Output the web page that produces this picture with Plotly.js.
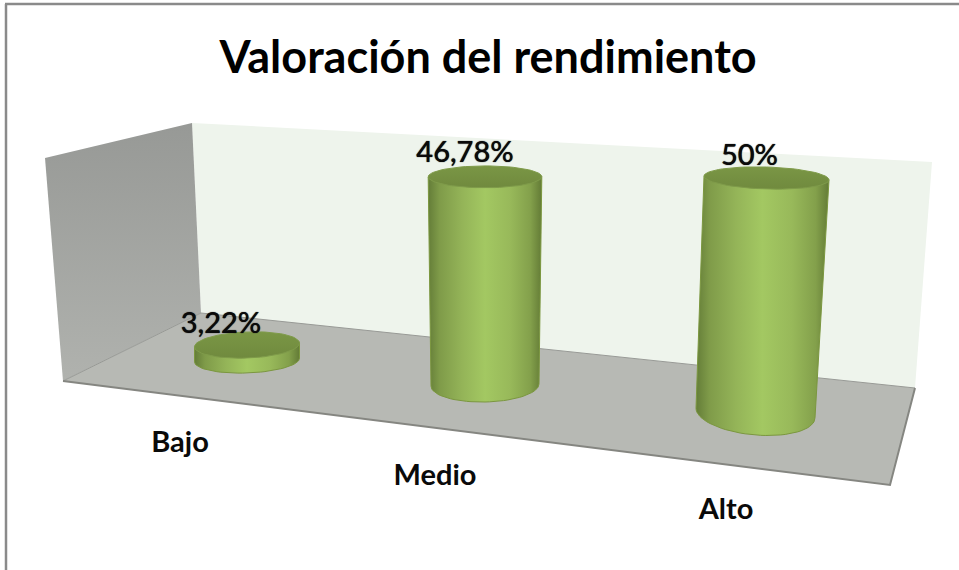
<!DOCTYPE html>
<html>
<head>
<meta charset="utf-8">
<script src="https://cdn.plot.ly/plotly-3.0.1.min.js"></script>
<style>html,body{margin:0;padding:0;background:#fff}#chart{width:959px;height:570px}</style>
</head>
<body>
<div id="chart"></div>
<script>
// ---- chart values ----
const chartTitle = 'Valoración del rendimiento';
const categories = ['Bajo', 'Medio', 'Alto'];
const values = [3.22, 46.78, 50];
const valueLabels = ['3,22%', '46,78%', '50%'];

// ---- oblique 3-D projection of the original chart (pixel space) ----
const axisMax = 50;
const baseX = [247, 485, 755.5], baseY = [360, 385, 413];
const topShiftX = [0, 0, 11];           // lean of the vertical axis at axisMax
const pxPerValue = [4.66, 4.45, 4.7];
const baseRx = [52.5, 54, 59.5], topRx = [52.5, 57, 62.5];
const baseRy = [13, 17, 22], topRy = [14, 10.5, 11];
const baseTilt = [-0.035, -0.02, 0.08], topTilt = [-0.06, 0, 0.03];
const valueOffset = [[-26, -19], [-20, -22], [-17, -20]];
const catLabelPos = [[180, 445], [435, 478], [726, 512]];
const corners = {
  wallTL: [45, 158], wallTR: [192, 123], wallBR: [201, 313], wallBL: [63, 381],
  backTR: [932, 162], floorR: [915, 388], floorF: [890, 485]
};

function poly(names, closed) {
  const pts = names.map(n => corners[n]);
  if (closed !== false) pts.push(pts[0]);
  return {x: pts.map(p => p[0]), y: pts.map(p => p[1])};
}
function ellipsePoint(cx, cy, rx, ry, tilt, a) {
  const c = Math.cos(a), s = Math.sin(a);
  return [cx + rx * c, cy + rx * c * tilt + ry * s];
}
function project(i, v) {
  const f = v / axisMax;
  return {
    cx: baseX[i] + topShiftX[i] * f,
    cy: baseY[i] - pxPerValue[i] * v,
    rx: baseRx[i] + (topRx[i] - baseRx[i]) * f,
    ry: baseRy[i] + (topRy[i] - baseRy[i]) * f,
    tilt: baseTilt[i] + (topTilt[i] - baseTilt[i]) * f
  };
}
const steps = 72;
const traces = [];
const base = {type: 'scatter', mode: 'lines', fill: 'toself', hoverinfo: 'skip', showlegend: false};
const edge = {type: 'scatter', mode: 'lines', hoverinfo: 'skip', showlegend: false};

// walls and floor
traces.push(Object.assign({}, base, poly(['wallTR', 'backTR', 'floorR', 'wallBR']), {
  line: {width: 0}, fillcolor: '#eef4ec'
}));
traces.push(Object.assign({}, base, poly(['wallTL', 'wallTR', 'wallBR', 'wallBL']), {
  line: {width: 0},
  fillgradient: {type: 'vertical', colorscale: [[0, '#b0b2ae'], [1, '#979996']]}
}));
traces.push(Object.assign({}, base, poly(['wallBR', 'floorR', 'floorF', 'wallBL']), {
  line: {width: 0}, fillcolor: '#b7b9b4'
}));
traces.push(Object.assign({}, edge, poly(['wallBL', 'wallBR', 'floorR'], false), {
  line: {width: 1, color: '#989a96'}
}));
traces.push(Object.assign({}, edge, poly(['floorR', 'floorF', 'wallBL'], false), {
  line: {width: 2, color: '#858681'}
}));

// cylinders
categories.forEach((cat, i) => {
  const t = project(i, values[i]);
  const b = project(i, 0);
  const bodyX = [], bodyY = [], capX = [], capY = [];
  let p = ellipsePoint(t.cx, t.cy, t.rx, t.ry, t.tilt, Math.PI);
  bodyX.push(p[0]); bodyY.push(p[1]);
  p = ellipsePoint(t.cx, t.cy, t.rx, t.ry, t.tilt, 0);
  bodyX.push(p[0]); bodyY.push(p[1]);
  for (let k = 0; k <= steps / 2; k++) {
    const q = ellipsePoint(b.cx, b.cy, b.rx, b.ry, b.tilt, Math.PI * 2 * k / steps);
    bodyX.push(q[0]); bodyY.push(q[1]);
  }
  bodyX.push(bodyX[0]); bodyY.push(bodyY[0]);
  for (let k = 0; k <= steps; k++) {
    const q = ellipsePoint(t.cx, t.cy, t.rx, t.ry, t.tilt, Math.PI * 2 * k / steps);
    capX.push(q[0]); capY.push(q[1]);
  }
  traces.push(Object.assign({}, base, {
    x: bodyX, y: bodyY, name: cat,
    line: {width: 1, color: '#7b973f'},
    fillgradient: {type: 'horizontal', colorscale: [
      [0, '#647d38'], [0.1, '#7f9b49'], [0.3, '#94b458'], [0.5, '#a3c862'],
      [0.72, '#98b95a'], [0.9, '#83a04b'], [1, '#637b36']]}
  }));
  traces.push(Object.assign({}, base, {
    x: capX, y: capY, name: cat + ' cap',
    line: {width: 1, color: '#7f9b4a'},
    fillgradient: {type: 'vertical', colorscale: [[0, '#708a3e'], [1, '#7a9645']]}
  }));
});

// data labels (sit on the top of each cylinder)
traces.push({
  type: 'scatter', mode: 'text', hoverinfo: 'skip', showlegend: false,
  x: values.map((v, i) => project(i, v).cx + valueOffset[i][0]),
  y: values.map((v, i) => project(i, v).cy + valueOffset[i][1]),
  text: valueLabels, textposition: 'middle center',
  textfont: {family: 'Lato, sans-serif', size: 29, color: '#0a0a0a', weight: 500, shadow: '0 0 1px #0a0a0a'}
});
// category labels
traces.push({
  type: 'scatter', mode: 'text', hoverinfo: 'skip', showlegend: false,
  x: catLabelPos.map(p => p[0]), y: catLabelPos.map(p => p[1]),
  text: categories, textposition: 'middle center',
  textfont: {family: 'Lato, sans-serif', size: 29, color: '#0a0a0a', weight: 700}
});

const layout = {
  width: 959, height: 570,
  margin: {l: 0, r: 0, t: 0, b: 0},
  paper_bgcolor: '#ffffff', plot_bgcolor: '#ffffff',
  showlegend: false,
  title: {
    text: chartTitle, x: 488 / 959, xanchor: 'center', y: 1 - 57 / 570, yanchor: 'middle',
    font: {family: 'Lato, sans-serif', size: 45, color: '#000000', weight: 700}
  },
  xaxis: {range: [0, 959], visible: false, fixedrange: true},
  yaxis: {range: [570, 0], visible: false, fixedrange: true},
  shapes: [
    {type: 'line', xref: 'paper', yref: 'paper', x0: 5 / 959, x1: 1, y0: 1 - 4 / 570, y1: 1 - 4 / 570,
     line: {color: '#8a8a8a', width: 2.5}},
    {type: 'line', xref: 'paper', yref: 'paper', x0: 6 / 959, x1: 6 / 959, y0: 1 - 4 / 570, y1: 0,
     line: {color: '#8a8a8a', width: 2.5}}
  ]
};
Plotly.newPlot('chart', traces, layout, {displayModeBar: false, staticPlot: true});
</script>
</body>
</html>
